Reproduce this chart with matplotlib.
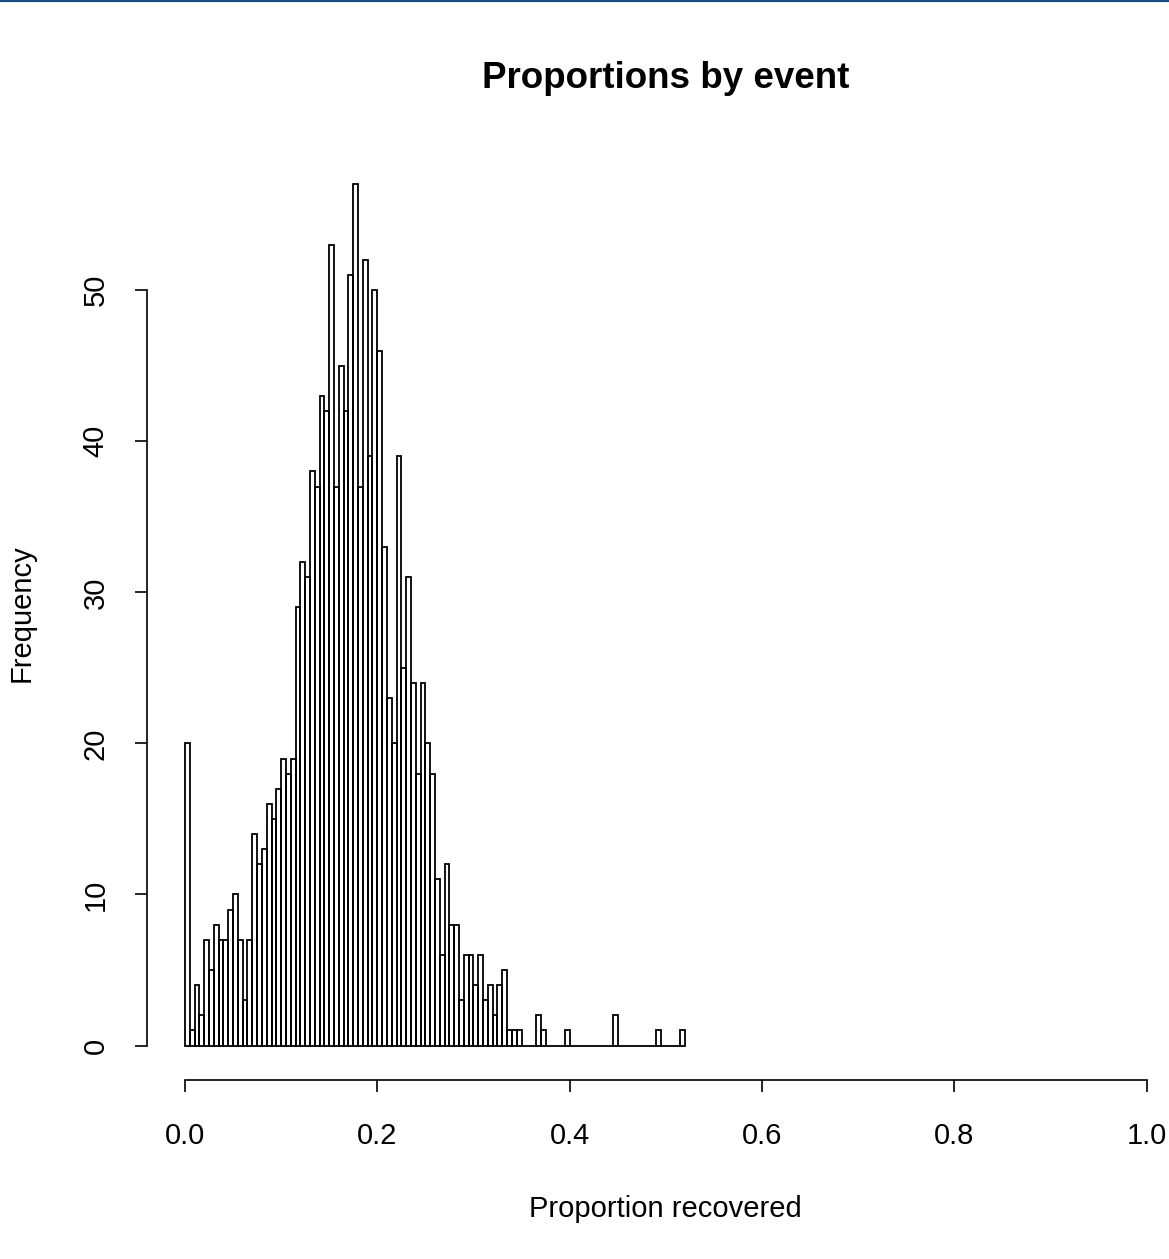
import numpy as np
import matplotlib.pyplot as plt
from matplotlib.lines import Line2D

plt.rcParams["font.family"] = ["Liberation Sans", "DejaVu Sans"]

# histogram of proportions, bin width 0.005 from 0 to 0.52
bin_width = 0.005
bin_edges = np.round(np.arange(0, 0.52 + bin_width / 2, bin_width), 4)
counts = [
    20, 1, 4, 2, 7, 5, 8, 7, 7, 9,
    10, 7, 3, 7, 14, 12, 13, 16, 15, 17,
    19, 18, 19, 29, 32, 31, 38, 37, 43, 42,
    53, 37, 45, 42, 51, 57, 37, 52, 39, 50,
    46, 33, 23, 20, 39, 25, 31, 24, 18, 24,
    20, 18, 11, 6, 12, 8, 8, 3, 6, 6,
    4, 6, 3, 4, 2, 4, 5, 1, 1, 1,
    0, 0, 0, 2, 1, 0, 0, 0, 0, 1,
    0, 0, 0, 0, 0, 0, 0, 0, 0, 2,
    0, 0, 0, 0, 0, 0, 0, 0, 1, 0,
    0, 0, 0, 1,
]
x_ticks = [0.0, 0.2, 0.4, 0.6, 0.8, 1.0]
x_tick_labels = ["0.0", "0.2", "0.4", "0.6", "0.8", "1.0"]
y_ticks = [0, 10, 20, 30, 40, 50]

W, H = 1169, 1259
fig = plt.figure(figsize=(W / 100, H / 100), dpi=100)

# plot region in pixels (R style, 4% padding around data range)
left, right, top, bottom = 146.5, 1185, 150, 1080
ax = fig.add_axes([left / W, 1 - bottom / H, (right - left) / W, (bottom - top) / H])

ymax = max(counts)
ax.set_xlim(-0.04, 1.04)
ax.set_ylim(-0.04 * ymax, ymax * 1.04)

ax.bar(bin_edges[:-1], counts, width=bin_width, align="edge",
       fill=False, edgecolor="black", linewidth=1.3)

for s in ["top", "right"]:
    ax.spines[s].set_visible(False)
ax.spines["left"].set_bounds(0, 50)
ax.spines["bottom"].set_bounds(0, 1)
ax.spines["left"].set_linewidth(1.2)
ax.spines["bottom"].set_linewidth(1.2)

ax.set_xticks(x_ticks)
ax.set_xticklabels(x_tick_labels)
ax.set_yticks(y_ticks)
ax.set_yticklabels([str(v) for v in y_ticks], rotation=90, va="center")
ax.tick_params(axis="both", direction="out", length=8.5, width=1.2,
               labelsize=21, colors="black")
ax.tick_params(axis="x", pad=22)
ax.tick_params(axis="y", pad=18)

fig.text((left + right) / 2 / W, 1 - 78 / H, "Proportions by event",
         ha="center", va="center", fontsize=26.5, fontweight="bold")
fig.text((left + right) / 2 / W, 1 - 1209 / H, "Proportion recovered",
         ha="center", va="center", fontsize=21)
fig.text(22 / W, 1 - 613 / H, "Frequency", rotation=90,
         ha="center", va="center", fontsize=21)

# thin dark border line at the top of the screenshot
fig.add_artist(Line2D([0, 1], [1 - 1 / H, 1 - 1 / H], color="#1b4a7c",
                      linewidth=1.6, transform=fig.transFigure))

fig.savefig("out.png", dpi=100)
